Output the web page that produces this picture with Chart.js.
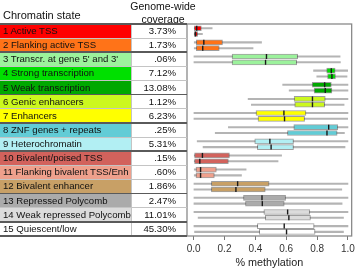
<!DOCTYPE html>
<html>
<head>
<meta charset="utf-8">
<script src="https://cdn.jsdelivr.net/npm/chart.js@4.4.1/dist/chart.umd.min.js"></script>
<style>
  html, body { margin: 0; padding: 0; background: #fff; }
  #wrap { position: relative; width: 358px; height: 272px; font-family: "Liberation Sans", Arial, sans-serif; color: #111; }
  #chart { position: absolute; left: 0; top: 0; }
  .cell { position: absolute; font-size: 9.6px; line-height: 14px; white-space: nowrap; overflow: hidden; }
  .rule { position: absolute; left: 0; width: 187px; }
  .head { position: absolute; white-space: nowrap; }
</style>
</head>
<body>
<div id="wrap">
  <canvas id="chart" width="358" height="272"></canvas>
  <div id="table"></div>
</div>
<script>
// Состояния хроматина и покрытие генома
const states = [
    '1 Active TSS', '2 Flanking active TSS', "3 Transcr. at gene 5' and 3'",
    '4 Strong transcription', '5 Weak transcription', '6 Genic enhancers',
    '7 Enhancers', '8 ZNF genes + repeats', '9 Heterochromatin',
    '10 Bivalent/poised TSS', '11 Flanking bivalent TSS/Enh', '12 Bivalent enhancer',
    '13 Repressed Polycomb', '14 Weak repressed Polycomb', '15 Quiescent/low'
];
const coverage = ['3.73%', '1.73%', '.06%', '7.12%', '13.08%', '1.12%', '6.23%', '.25%',
                  '5.31%', '.15%', '.60%', '1.86%', '2.47%', '11.01%', '45.30%'];
const stateColors = ['#ff0000', '#ff7318', '#9cf29c', '#00e000', '#00a800', '#ccf81e', '#ffff00',
                     '#62ccd6', '#b2eff3', '#d2625c', '#efa08c', '#c8a066', '#ababab', '#dcdcdc', '#ffffff'];
const groupEnds = [2, 5, 7, 9, 12, 14, 15]; // после этих строк идёт жирная линия

// Образец A (верхний бокс в паре)
const lowA  = [.004, .004, .002, .777, .577, .353, .002, .225, .023, .004, .004, .002, .002, .002, .002];
const q1A   = [.004, .017, .249, .862, .768, .651, .404, .649, .396, .006, .015, .115, .323, .455, .413];
const medA  = [.020, .066, .472, .892, .849, .770, .585, .875, .494, .057, .045, .285, .443, .609, .587];
const q3A   = [.050, .187, .674, .917, .892, .853, .728, .934, .647, .232, .147, .489, .596, .753, .781];
const highA = [.120, .440, .949, .998, 1.00, 1.00, 1.00, 1.00, 1.00, .570, .340, 1.00, 1.00, 1.00, 1.00];

// Образец B (нижний бокс в паре)
const lowB  = [.004, .004, .002, .798, .619, .374, .002, .140, .061, .004, .004, .002, .002, .029, .006];
const q1B   = [.004, .017, .249, .868, .781, .655, .417, .608, .413, .006, .015, .115, .336, .464, .425];
const medB  = [.012, .059, .466, .896, .853, .770, .589, .864, .502, .040, .045, .274, .445, .617, .602];
const q3B   = [.026, .166, .668, .919, .896, .849, .719, .930, .647, .225, .134, .464, .587, .757, .787];
const highB = [.057, .385, .951, .994, 1.00, .975, .998, .977, .981, .547, .310, .960, .962, .971, .971];

const sampleOffsets = [0.3, 0.71]; // положение двух боксов внутри строки
const xTicks = [0, 0.2, 0.4, 0.6, 0.8, 1.0];

const FONT = '"Liberation Sans", Arial, sans-serif';
const TOP = 24, BOTTOM = 236;
const rowH = (BOTTOM - TOP) / states.length;

// Таблица слева
function renderStateTable() {
    const t = document.getElementById('table');
    let html = '';
    html += `<div class="head" style="left:3px;top:9px;font-size:11px">Chromatin state</div>`;
    html += `<div class="head" style="left:163px;top:0px;transform:translateX(-50%);font-size:10.5px;text-align:center;line-height:12.5px">Genome-wide<br>coverage</div>`;
    states.forEach((name, i) => {
        const top = TOP + i * rowH;
        html += `<div class="cell" style="left:0;top:${top}px;width:131px;height:${rowH}px;background:${stateColors[i]};padding-left:3px;box-sizing:border-box">${name}</div>`;
        html += `<div class="cell" style="left:131px;top:${top}px;width:56px;height:${rowH}px;text-align:right;padding-right:11px;box-sizing:border-box">${coverage[i]}</div>`;
    });
    html += `<div style="position:absolute;left:131px;top:${TOP}px;width:1px;height:${BOTTOM - TOP}px;background:#c4c4c4"></div>`;
    for (let k = 0; k <= states.length; k++) {
        const heavy = k === 0 || groupEnds.includes(k);
        const th = heavy ? 1.6 : 1;
        html += `<div class="rule" style="top:${TOP + k * rowH - th / 2}px;height:${th}px;background:${heavy ? '#5a5a5a' : '#c4c4c4'}"></div>`;
    }
    t.innerHTML = html;
}

function buildBars(lo, hi) {
    const out = [];
    states.forEach((s, i) => {
        out.push({ x: [lo[0][i], hi[0][i]], y: i + sampleOffsets[0] });
        out.push({ x: [lo[1][i], hi[1][i]], y: i + sampleOffsets[1] });
    });
    return out;
}

const boxColors = states.flatMap((s, i) => [stateColors[i], stateColors[i]]);

const medianPlugin = {
    id: 'medians',
    afterDatasetsDraw(chart) {
        const { ctx, scales: { x, y } } = chart;
        ctx.save();
        ctx.strokeStyle = '#1a1a1a';
        ctx.lineWidth = 1.4;
        [medA, medB].forEach((med, s) => {
            med.forEach((m, i) => {
                const px = x.getPixelForValue(m);
                const py = y.getPixelForValue(i + sampleOffsets[s]);
                ctx.beginPath();
                ctx.moveTo(px, py - 2.5);
                ctx.lineTo(px, py + 2.5);
                ctx.stroke();
            });
        });
        ctx.restore();
    }
};

const framePlugin = {
    id: 'frame',
    afterDraw(chart) {
        const { ctx, chartArea: a } = chart;
        ctx.save();
        ctx.strokeStyle = '#8a8a8a';
        ctx.lineWidth = 1.3;
        ctx.strokeRect(a.left, a.top, a.right - a.left, a.bottom - a.top);
        ctx.restore();
    }
};

function renderMethylationChart() {
    const ctx = document.getElementById('chart').getContext('2d');
    new Chart(ctx, {
        type: 'bar',
        data: {
            datasets: [
                {
                    label: 'box',
                    data: buildBars([q1A, q1B], [q3A, q3B]),
                    backgroundColor: boxColors,
                    borderColor: 'rgba(0,0,0,0.38)',
                    borderWidth: 1,
                    borderSkipped: false,
                    barThickness: 5,
                    grouped: false
                },
                {
                    label: 'whisker',
                    data: buildBars([lowA, lowB], [highA, highB]),
                    backgroundColor: '#b4b4b4',
                    borderWidth: 0,
                    barThickness: 1.4,
                    grouped: false
                }
            ]
        },
        options: {
            indexAxis: 'y',
            responsive: false,
            animation: false,
            layout: { padding: { left: 187, right: 4, top: TOP, bottom: 0 } },
            plugins: { legend: { display: false }, tooltip: { enabled: false } },
            scales: {
                y: { type: 'linear', min: 0, max: 15, reverse: true, offset: false, display: false },
                x: {
                    type: 'linear',
                    min: -0.043,
                    max: 1.024,
                    afterBuildTicks: s => { s.ticks = xTicks.map(v => ({ value: v })); },
                    afterFit: s => { s.height = 272 - BOTTOM; },
                    grid: { drawOnChartArea: false, tickLength: 4, color: '#777' },
                    border: { display: false },
                    ticks: {
                        color: '#333',
                        padding: 3,
                        maxRotation: 0,
                        font: { family: FONT, size: 10 },
                        callback: v => Number(v).toFixed(1)
                    },
                    title: {
                        display: true,
                        text: '% methylation',
                        color: '#222',
                        font: { family: FONT, size: 10.8 },
                        padding: { top: 0, bottom: 2 }
                    }
                }
            }
        },
        plugins: [medianPlugin, framePlugin]
    });
}

renderStateTable();
renderMethylationChart();
</script>
</body>
</html>
